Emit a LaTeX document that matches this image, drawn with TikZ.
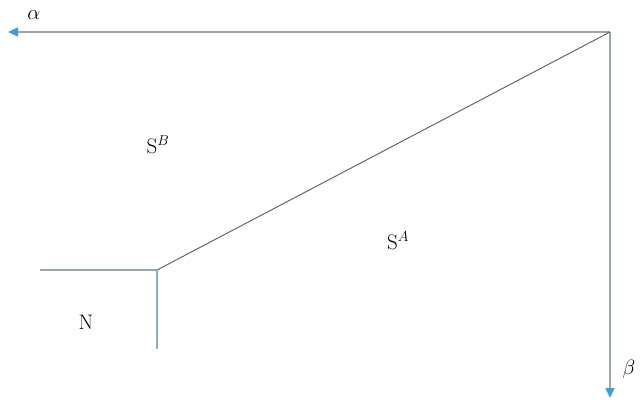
\documentclass[tikz,border=0pt]{standalone}
\usetikzlibrary{arrows.meta}
\definecolor{axisline}{HTML}{9AA6AE}
\definecolor{tipblue}{HTML}{3E9FD8}
\definecolor{tealline}{HTML}{86B2BA}
\tikzset{
  axis/.style={draw=axisline, line width=1.5pt, -{Triangle[length=10pt,width=9pt,fill=tipblue,color=tipblue]}},
  bound/.style={draw=axisline, line width=1.5pt},
  diag/.style={draw=black!60, line width=1pt},
  lbl/.style={font=\fontsize{21}{24}\selectfont, inner sep=0pt},
  greek/.style={font=\fontsize{21}{24}\selectfont, inner sep=0pt}
}
\begin{document}
\begin{tikzpicture}[x=1pt,y=-1pt]
\useasboundingbox (0,0) rectangle (640,400);
\coordinate (O) at (610,32);
\coordinate (A) at (8,32);
\coordinate (B) at (610,398);
\coordinate (K) at (157,270);
\coordinate (L) at (40,270);
\coordinate (D) at (157,349);
\draw[axis] (O) -- (A);
\draw[axis] (O) -- (B);
\draw[diag] (O) -- (K);
\draw[bound] (L) -- (K);
\draw[bound, draw=tealline] (K) -- (D);
\node[greek] (alpha) at (34,15) {$\alpha$};
\node[greek] (beta) at (629,369) {$\beta$};
\node[lbl] (SB) at (158,145) {S$^{B}$};
\node[lbl] (SA) at (398,241) {S$^{A}$};
\node[lbl] (N) at (86,322) {N};
\end{tikzpicture}
\end{document}
